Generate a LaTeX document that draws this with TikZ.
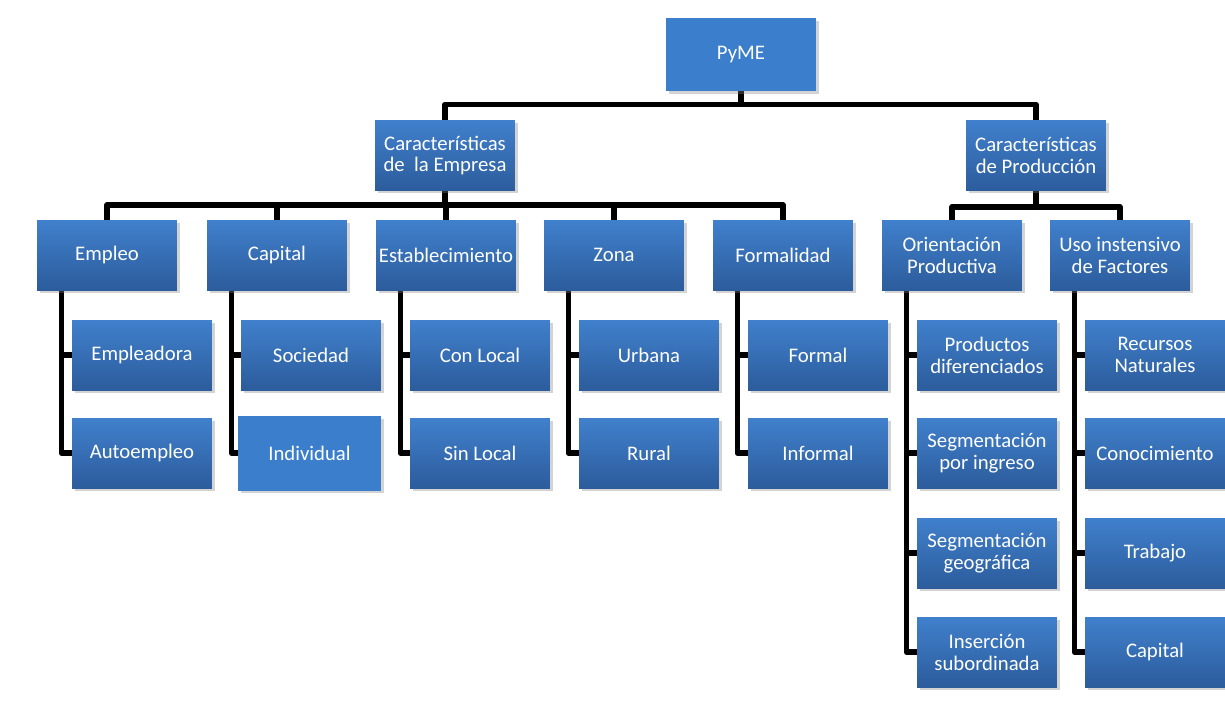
\documentclass[tikz,border=0pt]{standalone}
\usepackage{fontspec}
\setmainfont{Carlito}
\usetikzlibrary{positioning,shadows,calc,backgrounds}
\definecolor{boxtop}{RGB}{64,128,204}
\definecolor{boxbot}{RGB}{44,92,156}
\definecolor{boxflat}{RGB}{58,126,204}
\tikzset{
  box/.style={rectangle,minimum width=2.8cm,minimum height=1.4cm,inner sep=1pt,
              top color=boxtop,bottom color=boxbot,text=white,align=center,
              font=\fontsize{11.8}{12.5}\selectfont,
              drop shadow={opacity=0.35,shadow xshift=1.5pt,shadow yshift=-1.5pt}},
  flatbox/.style={box,top color=boxflat,bottom color=boxflat},
  link/.style={line width=3.1pt,black,line join=round},
}
\begin{document}
\begin{tikzpicture}[x=0.02cm,y=-0.02cm]
  \useasboundingbox (0,0) rectangle (1225,711);
  % ---- root ----
  \node[flatbox,minimum width=3cm,minimum height=1.46cm] (pyme) at (741,54.5) {PyME};
  % ---- level 1 ----
  \node[box] (empresa) at (445,155.5) {Características\\de\ \ la Empresa};
  \node[box] (prod) at (1036,155.5) {Características\\de Producción};
  % ---- level 2 ----
  \node[box] (empleo) at (107,255) {Empleo};
  \node[box] (capital) at (277,255) {Capital};
  \node[box] (estab) at (446,255) {Establecimiento};
  \node[box] (zona) at (614,255) {Zona};
  \node[box] (formal) at (783,255) {Formalidad};
  \node[box] (orient) at (952,255) {Orientación\\Productiva};
  \node[box] (uso) at (1120,255) {Uso instensivo\\de Factores};
  % ---- level 3 ----
  \node[box] (emplea) at (142,355) {Empleadora};
  \node[box] (autoe) at (142,453) {Autoempleo};
  \node[box] (socie) at (311,355) {Sociedad};
  \node[flatbox,minimum width=2.86cm,minimum height=1.48cm] (indiv) at (309.5,453) {Individual};
  \node[box] (conloc) at (480,355) {Con Local};
  \node[box] (sinloc) at (480,453) {Sin Local};
  \node[box] (urbana) at (649,355) {Urbana};
  \node[box] (rural) at (649,453) {Rural};
  \node[box] (formalb) at (818,355) {Formal};
  \node[box] (informal) at (818,453) {Informal};
  \node[box] (pdif) at (987,355) {Productos\\diferenciados};
  \node[box] (sing) at (987,453) {Segmentación\\por ingreso};
  \node[box] (sgeo) at (987,553) {Segmentación\\geográfica};
  \node[box] (insub) at (987,652) {Inserción\\subordinada};
  \node[box] (recnat) at (1155,355) {Recursos\\Naturales};
  \node[box] (conoc) at (1155,453) {Conocimiento};
  \node[box] (trab) at (1155,553) {Trabajo};
  \node[box] (capb) at (1155,652) {Capital};
  % ---- links ----
  \begin{scope}[on background layer]
    \draw[link] (pyme.south) -- ++(0,13) coordinate (j0);
    \draw[link] (empresa.north) |- (j0) -| (prod.north);
    \draw[link] (empresa.south) -- ++(0,14) coordinate (j1);
    \draw[link] (empleo.north) |- (j1) -| (formal.north);
    \foreach \n in {capital,estab,zona} \draw[link] (\n.north) -- (\n.north |- j1);
    \draw[link] (prod.south) -- ++(0,16) coordinate (j2);
    \draw[link] (orient.north) |- (j2) -| (uso.north);
    \draw[link] ([xshift=14]empleo.south west) |- (autoe.west);
    \draw[link] ([xshift=14]empleo.south west) |- (emplea.west);
    \draw[link] ([xshift=14]capital.south west) |- (indiv.west);
    \draw[link] ([xshift=14]capital.south west) |- (socie.west);
    \draw[link] ([xshift=14]estab.south west) |- (sinloc.west);
    \draw[link] ([xshift=14]estab.south west) |- (conloc.west);
    \draw[link] ([xshift=14]zona.south west) |- (rural.west);
    \draw[link] ([xshift=14]zona.south west) |- (urbana.west);
    \draw[link] ([xshift=14]formal.south west) |- (informal.west);
    \draw[link] ([xshift=14]formal.south west) |- (formalb.west);
    \draw[link] ([xshift=14]orient.south west) |- (insub.west);
    \foreach \n in {pdif,sing,sgeo} \draw[link] ([xshift=14]orient.south west |- \n.west) -- (\n.west);
    \draw[link] ([xshift=14]uso.south west) |- (capb.west);
    \foreach \n in {recnat,conoc,trab} \draw[link] ([xshift=14]uso.south west |- \n.west) -- (\n.west);
  \end{scope}
\end{tikzpicture}
\end{document}
